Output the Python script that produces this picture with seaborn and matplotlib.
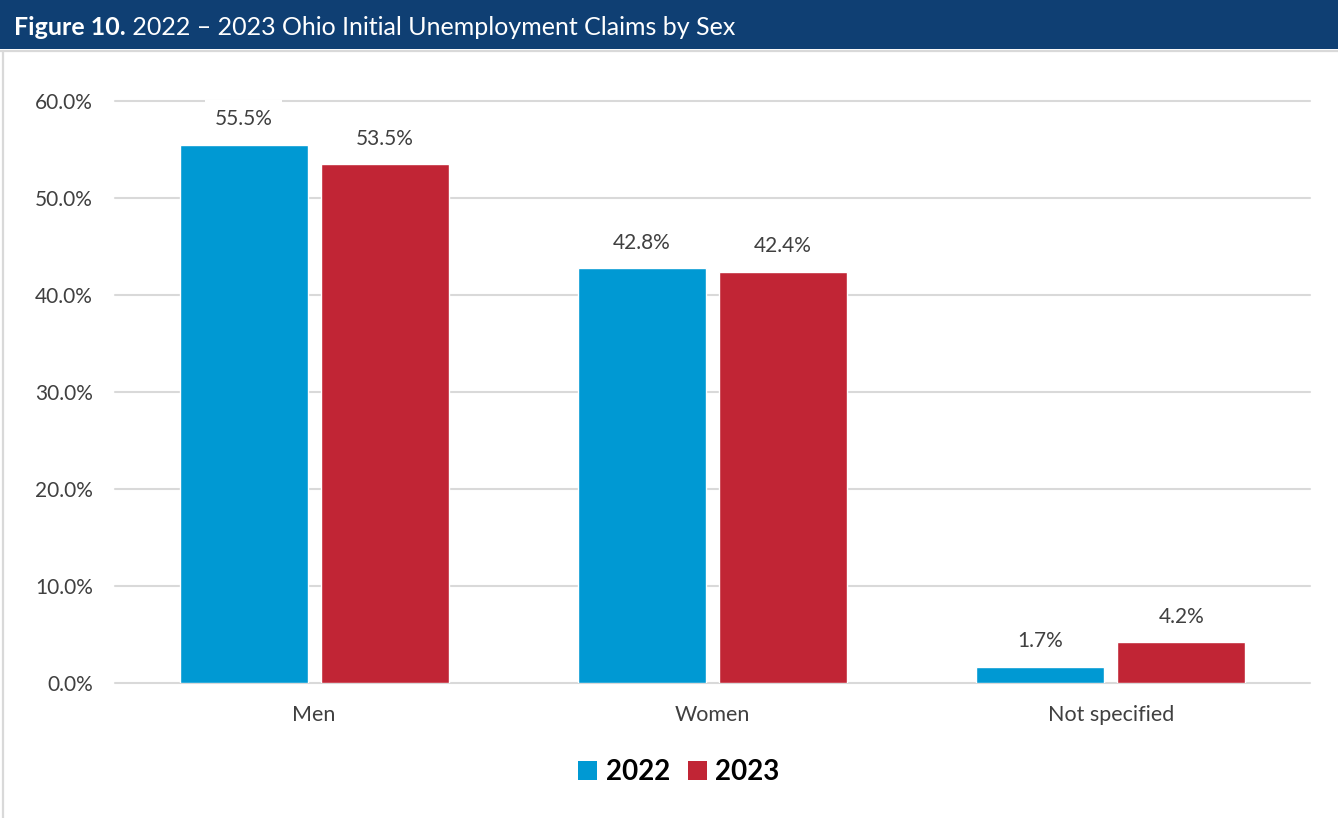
import matplotlib
matplotlib.use("Agg")
import matplotlib.pyplot as plt
from matplotlib.patches import Patch, Rectangle
from matplotlib.lines import Line2D
import pandas as pd
import seaborn as sns

# Share of Ohio initial unemployment claims by sex
categories = ["Men", "Women", "Not specified"]
years = ["2022", "2023"]
share_2022 = [55.5, 42.8, 1.7]
share_2023 = [53.5, 42.4, 4.2]
y_ticks = [0, 10, 20, 30, 40, 50, 60]

title_bold = "Figure 10."
title_rest = " 2022 \u2013 2023 Ohio Initial Unemployment Claims by Sex"

colors = {"2022": "#0099D3", "2023": "#C12535"}
header_color = "#0F3F73"
grid_color = "#D9D9D9"
text_color = "#404040"

df = pd.DataFrame({
    "category": categories * 2,
    "year": [years[0]] * len(categories) + [years[1]] * len(categories),
    "share": share_2022 + share_2023,
})

sns.set_style("white")
plt.rcParams["font.family"] = ["Lato", "DejaVu Sans"]

W, H = 1338, 818
fig = plt.figure(figsize=(W / 100, H / 100), dpi=100)

# header band with title
fig.patches.append(Rectangle((0, 1 - 49 / H), 1, 49 / H, transform=fig.transFigure,
                             facecolor=header_color, edgecolor="none", zorder=0))
fig.lines.append(Line2D([0, 1], [1 - 51 / H, 1 - 51 / H], transform=fig.transFigure,
                        color=grid_color, lw=1.6))
fig.lines.append(Line2D([3 / W, 3 / W], [0, 1 - 51 / H], transform=fig.transFigure,
                        color=grid_color, lw=1.6))

t1 = fig.text(14 / W, 1 - 35 / H, title_bold, color="white", fontsize=18,
              fontweight="bold", va="baseline", ha="left")
renderer = fig.canvas.get_renderer()
bb = t1.get_window_extent(renderer)
fig.text(bb.x1 / W, 1 - 35 / H, title_rest, color="white", fontsize=18,
         va="baseline", ha="left")

ax = fig.add_axes([115 / W, 1 - 683 / H, (1310 - 115) / W, (683 - 101) / H])
sns.barplot(data=df, x="category", y="share", hue="year", hue_order=years,
            order=categories, palette=colors, width=0.708, gap=0.092,
            legend=False, ax=ax, saturation=1)

ax.set_ylim(0, 60)
ax.set_yticks(y_ticks)
ax.set_yticklabels([f"{v:.1f}%" for v in y_ticks])
ax.set_xlabel("")
ax.set_ylabel("")
ax.tick_params(axis="y", length=0, pad=16, labelsize=15, labelcolor=text_color)
ax.tick_params(axis="x", length=0, pad=16, labelsize=15.5, labelcolor=text_color)
for s in ax.spines.values():
    s.set_visible(False)
ax.yaxis.grid(True, color=grid_color, lw=1.5)
ax.set_axisbelow(True)
for gl in ax.get_ygridlines():
    gl.set_clip_on(False)

for cont in ax.containers:
    vals = [b.get_height() for b in cont]
    ax.bar_label(cont, labels=[f"{v:.1f}%" for v in vals], padding=11,
                 fontsize=15, color=text_color,
                 bbox=dict(facecolor="white", edgecolor="none", pad=7))

handles = [Patch(facecolor=colors[y], edgecolor="none", label=y) for y in years]
leg = fig.legend(handles=handles, loc="center", bbox_to_anchor=(679 / W, 1 - 772 / H),
                 ncol=2, frameon=False, handlelength=0.68, handleheight=0.68,
                 handletextpad=0.3, columnspacing=0.65,
                 prop={"size": 20, "weight": "bold"})
for t in leg.get_texts():
    t.set_color("black")

fig.savefig("out.png", dpi=100)
